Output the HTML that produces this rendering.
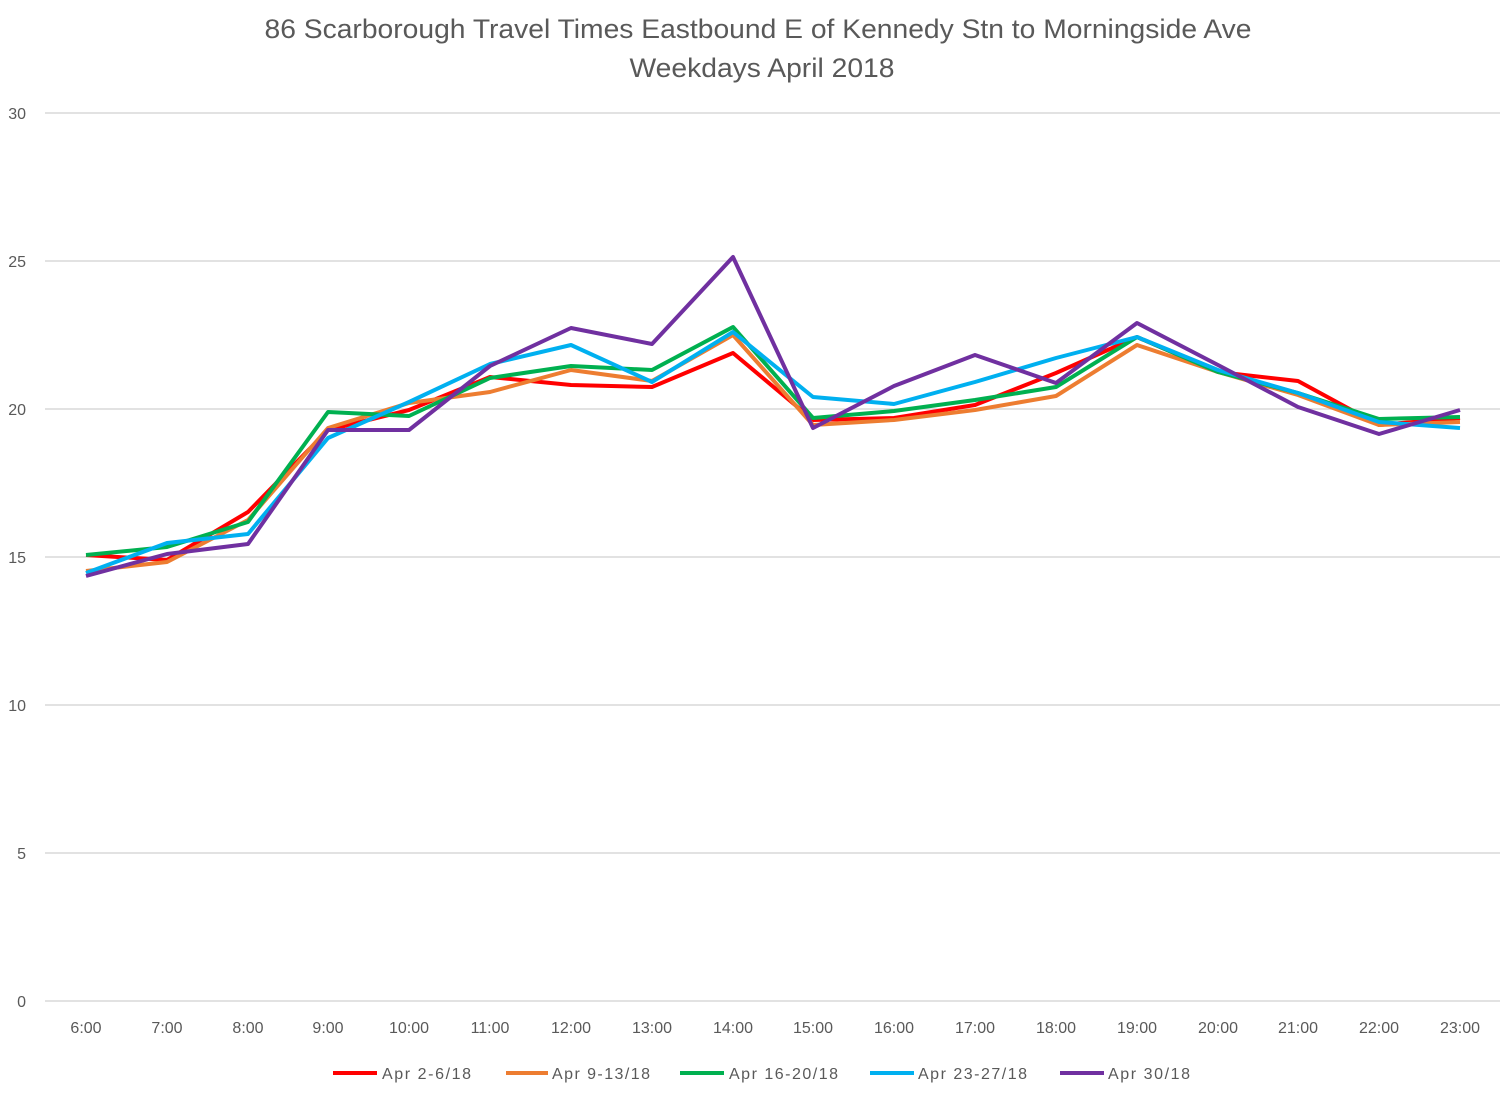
<!DOCTYPE html>
<html><head><meta charset="utf-8"><style>body{margin:0;background:#fff}</style></head><body>
<svg width="1512" height="1094" xmlns="http://www.w3.org/2000/svg" font-family="Liberation Sans, sans-serif">
<rect width="1512" height="1094" fill="#fff"/>
<text x="758" y="38" text-anchor="middle" font-size="27" fill="#595959" textLength="987" lengthAdjust="spacingAndGlyphs">86 Scarborough Travel Times Eastbound E of Kennedy Stn to Morningside Ave</text>
<text x="762" y="77" text-anchor="middle" font-size="27" fill="#595959" textLength="265" lengthAdjust="spacingAndGlyphs">Weekdays April 2018</text>
<g stroke="#d9d9d9" stroke-width="1.5">
<line x1="45" x2="1500" y1="113" y2="113"/><line x1="45" x2="1500" y1="261" y2="261"/><line x1="45" x2="1500" y1="409" y2="409"/><line x1="45" x2="1500" y1="557" y2="557"/><line x1="45" x2="1500" y1="705" y2="705"/><line x1="45" x2="1500" y1="853" y2="853"/><line x1="45" x2="1500" y1="1001" y2="1001"/>
</g>
<g font-size="16" fill="#595959" text-anchor="end">
<text x="26" y="119">30</text><text x="26" y="267">25</text><text x="26" y="415">20</text><text x="26" y="563">15</text><text x="26" y="711">10</text><text x="26" y="859">5</text><text x="26" y="1007">0</text>
</g>
<g font-size="16" fill="#595959" text-anchor="middle">
<text x="86" y="1033">6:00</text><text x="167" y="1033">7:00</text><text x="248" y="1033">8:00</text><text x="328" y="1033">9:00</text><text x="409" y="1033">10:00</text><text x="490" y="1033">11:00</text><text x="571" y="1033">12:00</text><text x="652" y="1033">13:00</text><text x="733" y="1033">14:00</text><text x="813" y="1033">15:00</text><text x="894" y="1033">16:00</text><text x="975" y="1033">17:00</text><text x="1056" y="1033">18:00</text><text x="1137" y="1033">19:00</text><text x="1218" y="1033">20:00</text><text x="1298" y="1033">21:00</text><text x="1379" y="1033">22:00</text><text x="1460" y="1033">23:00</text>
</g>
<g fill="none" stroke-width="4" stroke-linejoin="round">
<polyline stroke="#ff0000" points="86,555 167,560 248,512 328,430 409,410 490,377 571,385 652,387 733,353 813,420 894,418 975,405 1056,373 1137,337 1218,372 1298,381 1379,425 1460,418"/>
<polyline stroke="#ed7d31" points="86,571 167,562 248,520 328,428 409,403 490,392 571,370 652,381 733,335 813,425 894,420 975,410 1056,396 1137,345 1218,372 1298,395 1379,425 1460,422"/>
<polyline stroke="#00b050" points="86,555 167,547 248,522 328,412 409,416 490,378 571,366 652,370 733,327 813,418 894,411 975,400 1056,387 1137,337 1218,372 1298,393 1379,419 1460,417"/>
<polyline stroke="#00b0f0" points="86,573 167,543 248,534 328,438 409,402 490,364 571,345 652,382 733,332 813,397 894,404 975,382 1056,358 1137,337 1218,370 1298,393 1379,422 1460,428"/>
<polyline stroke="#7030a0" points="86,576 167,554 248,544 328,430 409,430 490,366 571,328 652,344 733,257 813,428 894,386 975,355 1056,383 1137,323 1218,365 1298,407 1379,434 1460,410"/>
</g>
<g stroke-width="4">
<line x1="333" x2="377" y1="1073" y2="1073" stroke="#ff0000"/>
<line x1="506" x2="548" y1="1073" y2="1073" stroke="#ed7d31"/>
<line x1="680" x2="724" y1="1073" y2="1073" stroke="#00b050"/>
<line x1="870" x2="914" y1="1073" y2="1073" stroke="#00b0f0"/>
<line x1="1060" x2="1104" y1="1073" y2="1073" stroke="#7030a0"/>
</g>
<g font-size="16" fill="#595959" lengthAdjust="spacingAndGlyphs">
<text x="382" y="1079" textLength="89">Apr 2-6/18</text><text x="552" y="1079" textLength="98">Apr 9-13/18</text><text x="729" y="1079" textLength="109">Apr 16-20/18</text><text x="918" y="1079" textLength="109">Apr 23-27/18</text><text x="1108" y="1079" textLength="82">Apr 30/18</text>
</g>
</svg>
</body></html>
